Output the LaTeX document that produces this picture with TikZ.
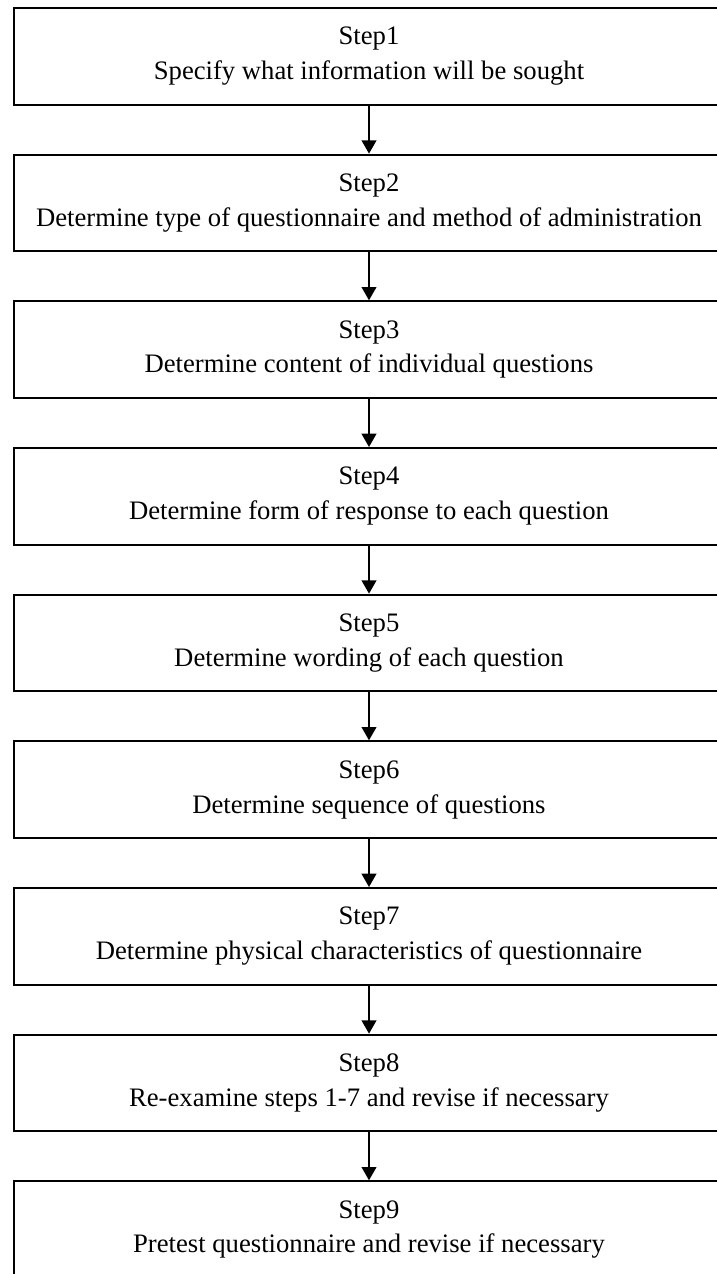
\documentclass[tikz,border=0pt]{standalone}
\usepackage{fontspec}
\setmainfont{Liberation Serif}
\usetikzlibrary{positioning,arrows.meta}

\begin{document}
\begin{tikzpicture}[
    stepbox/.style={draw, line width=1.5pt, minimum width=532.5pt,
        minimum height=72.5pt, align=center,
        font=\fontsize{20}{26}\selectfont},
    arr/.style={line width=1.5pt, -{Triangle[width=11pt, length=10pt]}},
    node distance=36pt
]
    % Page frame
    \useasboundingbox (0,0) rectangle (537.75pt,-955.5pt);

    % Steps
    \node[stepbox, anchor=north] (s1) at (276.75pt,-5.25pt)
        {Step1\\Specify what information will be sought};
    \node[stepbox, below=of s1] (s2)
        {Step2\\Determine type of questionnaire and method of administration};
    \node[stepbox, below=of s2] (s3)
        {Step3\\Determine content of individual questions};
    \node[stepbox, below=of s3] (s4)
        {Step4\\Determine form of response to each question};
    \node[stepbox, below=of s4] (s5)
        {Step5\\Determine wording of each question};
    \node[stepbox, below=of s5] (s6)
        {Step6\\Determine sequence of questions};
    \node[stepbox, below=of s6] (s7)
        {Step7\\Determine physical characteristics of questionnaire};
    \node[stepbox, below=of s7] (s8)
        {Step8\\Re-examine steps 1-7 and revise if necessary};
    \node[stepbox, below=of s8] (s9)
        {Step9\\Pretest questionnaire and revise if necessary};

    % Arrows
    \draw[arr] (s1) -- (s2);
    \draw[arr] (s2) -- (s3);
    \draw[arr] (s3) -- (s4);
    \draw[arr] (s4) -- (s5);
    \draw[arr] (s5) -- (s6);
    \draw[arr] (s6) -- (s7);
    \draw[arr] (s7) -- (s8);
    \draw[arr] (s8) -- (s9);
\end{tikzpicture}
\end{document}
